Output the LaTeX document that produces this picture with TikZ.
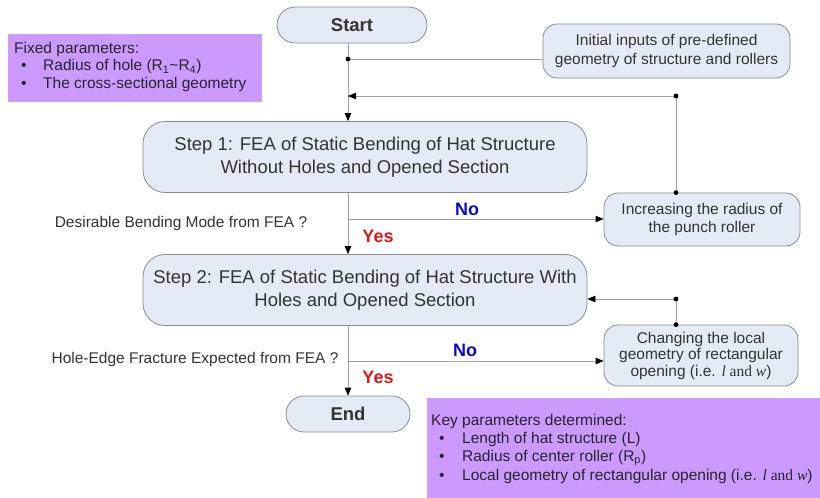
\documentclass[tikz,border=0pt]{standalone}
\usepackage{fontspec}
\setmainfont{Liberation Sans}
\newfontfamily\serifit{Liberation Serif}
\usetikzlibrary{arrows.meta,calc}
\definecolor{boxfill}{RGB}{228,235,246}
\definecolor{boxdraw}{RGB}{140,140,140}
\definecolor{linec}{RGB}{160,160,160}
\definecolor{purp}{RGB}{204,153,255}
\definecolor{txt}{RGB}{51,51,51}
\definecolor{nob}{RGB}{10,10,200}
\definecolor{yesr}{RGB}{220,25,25}
\newcommand{\lw}{{\serifit\itshape l}{\serifit\ and }{\serifit\itshape w}}
\begin{document}
\begin{tikzpicture}[x=1pt,y=-1pt,
  flowbox/.style={draw=boxdraw,fill=boxfill,line width=0.8pt,text=txt,align=center,inner sep=0pt},
  bigtext/.style={font=\fontsize{18.5}{22.5}\selectfont},
  smalltext/.style={font=\fontsize{15.5}{18.5}\selectfont},
  termbox/.style={flowbox,minimum height=36pt,rounded corners=18pt,font=\fontsize{18.5}{22}\selectfont\bfseries},
  stepbox/.style={flowbox,bigtext,minimum width=444pt,minimum height=71pt,rounded corners=22pt},
  sidebox/.style={flowbox,smalltext,minimum width=196pt,rounded corners=14pt},
  purpbox/.style={fill=purp,draw=none},
  ptext/.style={anchor=west,text=black!85,font=\fontsize{15.5}{18.5}\selectfont,inner sep=0pt,text height=11pt,text depth=3.5pt},
  conn/.style={draw=linec,line width=0.8pt},
  arr/.style={conn,-{Triangle[length=8pt,width=6.5pt,color=black]}},
  dotc/.style={fill=black},
  lbl/.style={font=\fontsize{18}{20}\selectfont\bfseries,inner sep=0pt},
  qtext/.style={font=\fontsize{15.5}{18}\selectfont,text=txt,inner sep=0pt}
]
\useasboundingbox (0,0) rectangle (820,498);

% purple boxes
\path[purpbox] (8,34) rectangle (262,102);
\path[purpbox] (427,398) rectangle (820,498);
\node[ptext] (fixh) at (14,50) {Fixed parameters:};
\node[ptext] (fix1) at (21,67) {\makebox[22pt][l]{•}Radius of hole (R\textsubscript{1}\textasciitilde R\textsubscript{4})};
\node[ptext] (fix2) at (21,85) {\makebox[22pt][l]{•}The cross-sectional geometry};
\node[ptext] (keyh) at (431,422) {Key parameters determined:};
\node[ptext] (key1) at (439,440) {\makebox[23pt][l]{•}Length of hat structure (L)};
\node[ptext] (key2) at (439,458) {\makebox[23pt][l]{•}Radius of center roller (R\textsubscript{p})};
\node[ptext] (key3) at (439,477) {\makebox[23pt][l]{•}Local geometry of rectangular opening (i.e. \lw)};

% flow nodes
\node[termbox,minimum width=150pt] (start) at (352,25) {Start};
\node[flowbox,smalltext,minimum width=247pt,minimum height=54pt,rounded corners=14pt] (init) at (666.5,51) {Initial inputs of pre-defined\\geometry of structure and rollers};
\node[stepbox] (step1) at (365,157) {Step 1: FEA of Static Bending of Hat Structure\\Without Holes and Opened Section};
\node[sidebox,minimum height=53pt] (incr) at (702,219.5) {Increasing the radius of\\the punch roller};
\node[stepbox] (step2) at (365,290) {Step 2: FEA of Static Bending of Hat Structure With\\Holes and Opened Section};
\node[sidebox,minimum width=194pt,minimum height=61pt,font=\fontsize{15.5}{16.5}\selectfont] (chg) at (701,355.5) {Changing the local\\geometry of rectangular\\opening (i.e. \lw)};
\node[termbox,minimum width=124pt] (end) at (348,414) {End};

% coordinates
\coordinate (j1) at (348,59);
\coordinate (j2) at (348,96);
\coordinate (d1) at (676,96);
\coordinate (b1) at (348,219);
\coordinate (d2) at (676,299);
\coordinate (b2) at (348,361);

% connectors
\draw[arr] (start.south -| j1) -- (step1.north -| j1);
\draw[conn] (j1) -- (j1 -| init.west);
\draw[arr] (incr.north -| d1) -- (d1) -- (j2);
\draw[arr] (step1.south -| j1) -- (step2.north -| j1);
\draw[arr] (b1) -- (b1 -| incr.west);
\draw[arr] (chg.north -| d2) -- (d2) -- (d2 -| step2.east);
\draw[arr] (step2.south -| j1) -- (end.north -| j1);
\draw[arr] (b2) -- (b2 -| chg.west);

% dots
\fill[dotc] (j1) circle (2.4pt);
\fill[dotc] (d1) circle (2.4pt);
\fill[dotc] (incr.north -| d1) circle (2.4pt);
\fill[dotc] (d2) circle (2.4pt);
\fill[dotc] (chg.north -| d2) circle (2.4pt);

% labels
\node[lbl,text=nob] (no1) at (467,209) {No};
\node[lbl,text=yesr] (yes1) at (378,236) {Yes};
\node[lbl,text=nob] (no2) at (465,350) {No};
\node[lbl,text=yesr] (yes2) at (378,377) {Yes};
\node[qtext] (q1) at (181,223) {Desirable Bending Mode from FEA ?};
\node[qtext] (q2) at (195,359) {Hole-Edge Fracture Expected from FEA ?};
\end{tikzpicture}
\end{document}
